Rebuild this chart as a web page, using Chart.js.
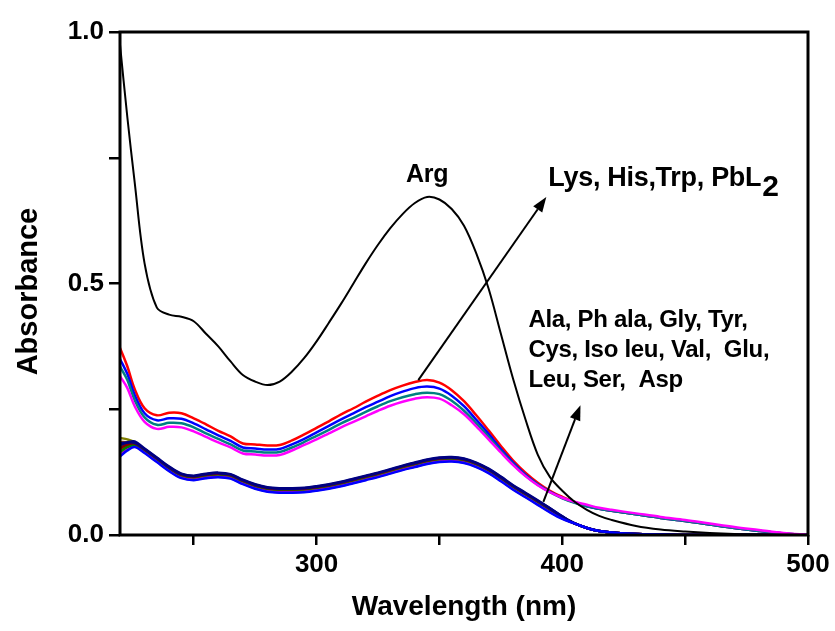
<!DOCTYPE html>
<html>
<head>
<meta charset="utf-8">
<script src="https://cdn.jsdelivr.net/npm/chart.js@4.4.1/dist/chart.umd.min.js"></script>
<style>
  html, body { margin: 0; padding: 0; background: #fff; }
  #wrap { width: 835px; height: 631px; }
</style>
</head>
<body>
<div id="wrap"><canvas id="uv" width="835" height="631"></canvas></div>
<script>
// wavelength grid (nm)
const wavelengths = [220, 223, 226, 230, 235, 240, 245, 250, 255, 260,
  265, 270, 275, 280, 285, 290, 295, 300, 305, 310,
  315, 320, 325, 330, 335, 340, 345, 350, 355, 360,
  365, 370, 375, 380, 385, 390, 395, 400, 405, 410,
  415, 420, 430, 440, 450, 460, 470, 480, 490, 500];

const xTicks = [250, 300, 350, 400, 450, 500];
const yTicks = [0, 0.25, 0.5, 0.75, 1.0];

// Arg
const arg = [0.975, 0.830, 0.700, 0.540, 0.452, 0.438, 0.434, 0.425, 0.400, 0.375,
  0.345, 0.318, 0.305, 0.298, 0.305, 0.325, 0.352, 0.385, 0.422, 0.460,
  0.500, 0.540, 0.577, 0.610, 0.638, 0.660, 0.672, 0.667, 0.648, 0.615,
  0.560, 0.490, 0.400, 0.310, 0.230, 0.160, 0.115, 0.088, 0.066, 0.050,
  0.038, 0.030, 0.018, 0.011, 0.007, 0.004, 0.002, 0.001, 0.0005, 0];

// Lys, His, Trp, PbL2
const upperRed = [0.372, 0.335, 0.290, 0.252, 0.238, 0.243, 0.242, 0.232, 0.220, 0.207,
  0.196, 0.182, 0.180, 0.178, 0.179, 0.188, 0.200, 0.213, 0.226, 0.240,
  0.252, 0.265, 0.277, 0.288, 0.297, 0.304, 0.308, 0.303, 0.288, 0.266,
  0.238, 0.208, 0.177, 0.148, 0.124, 0.104, 0.088, 0.076, 0.066, 0.058,
  0.052, 0.048, 0.041, 0.034, 0.028, 0.021, 0.014, 0.008, 0.003, 0];
const upperBlue = [0.350, 0.320, 0.278, 0.242, 0.228, 0.232, 0.231, 0.222, 0.210, 0.198,
  0.187, 0.174, 0.172, 0.170, 0.171, 0.180, 0.191, 0.204, 0.217, 0.230,
  0.242, 0.254, 0.265, 0.276, 0.285, 0.292, 0.295, 0.291, 0.277, 0.256,
  0.229, 0.201, 0.171, 0.144, 0.120, 0.101, 0.086, 0.074, 0.065, 0.057,
  0.052, 0.048, 0.041, 0.034, 0.028, 0.021, 0.014, 0.008, 0.003, 0];
const upperTeal = [0.335, 0.308, 0.268, 0.234, 0.219, 0.223, 0.222, 0.214, 0.202, 0.191,
  0.180, 0.168, 0.166, 0.164, 0.165, 0.174, 0.185, 0.197, 0.209, 0.222,
  0.233, 0.245, 0.256, 0.266, 0.274, 0.280, 0.283, 0.280, 0.267, 0.247,
  0.222, 0.195, 0.167, 0.141, 0.118, 0.100, 0.085, 0.073, 0.064, 0.057,
  0.052, 0.048, 0.041, 0.034, 0.028, 0.021, 0.014, 0.008, 0.003, 0];
const upperMagenta = [0.316, 0.292, 0.256, 0.225, 0.211, 0.215, 0.214, 0.206, 0.195, 0.184,
  0.174, 0.162, 0.160, 0.158, 0.159, 0.168, 0.179, 0.190, 0.202, 0.214,
  0.225, 0.236, 0.247, 0.257, 0.265, 0.271, 0.274, 0.271, 0.258, 0.240,
  0.216, 0.190, 0.164, 0.139, 0.117, 0.099, 0.085, 0.074, 0.066, 0.060,
  0.054, 0.050, 0.043, 0.036, 0.030, 0.023, 0.016, 0.010, 0.004, 0];

// Ala, Ph ala, Gly, Tyr, Cys, Iso leu, Val, Glu, Leu, Ser, Asp
const lowNavy = [0.179, 0.184, 0.186, 0.172, 0.154, 0.136, 0.122, 0.118, 0.122, 0.124,
  0.121, 0.110, 0.101, 0.095, 0.093, 0.093, 0.094, 0.097, 0.101, 0.106,
  0.112, 0.118, 0.124, 0.131, 0.138, 0.144, 0.150, 0.154, 0.155, 0.152,
  0.144, 0.132, 0.116, 0.099, 0.084, 0.069, 0.053, 0.037, 0.023, 0.014,
  0.008, 0.005, 0.002, 0.001, 0, 0, 0, 0, 0, 0];
const lowDarkBlue = [0.182, 0.184, 0.183, 0.171, 0.153, 0.135, 0.121, 0.117, 0.121, 0.123,
  0.120, 0.109, 0.100, 0.094, 0.092, 0.092, 0.093, 0.096, 0.100, 0.105,
  0.111, 0.117, 0.123, 0.130, 0.137, 0.143, 0.149, 0.153, 0.154, 0.151,
  0.143, 0.131, 0.115, 0.098, 0.083, 0.068, 0.053, 0.037, 0.023, 0.014,
  0.008, 0.005, 0.002, 0.001, 0, 0, 0, 0, 0, 0];
const lowMaroon = [0.173, 0.180, 0.182, 0.170, 0.152, 0.134, 0.120, 0.116, 0.120, 0.122,
  0.119, 0.108, 0.099, 0.093, 0.091, 0.091, 0.092, 0.095, 0.099, 0.104,
  0.110, 0.116, 0.122, 0.129, 0.136, 0.142, 0.148, 0.152, 0.153, 0.150,
  0.142, 0.130, 0.114, 0.097, 0.082, 0.067, 0.052, 0.036, 0.023, 0.014,
  0.008, 0.005, 0.002, 0.001, 0, 0, 0, 0, 0, 0];
const lowGreen = [0.165, 0.175, 0.179, 0.169, 0.151, 0.133, 0.119, 0.115, 0.119, 0.121,
  0.118, 0.107, 0.098, 0.092, 0.090, 0.090, 0.091, 0.094, 0.098, 0.103,
  0.109, 0.115, 0.121, 0.128, 0.135, 0.141, 0.147, 0.151, 0.152, 0.149,
  0.141, 0.129, 0.113, 0.096, 0.081, 0.066, 0.051, 0.036, 0.023, 0.014,
  0.008, 0.005, 0.002, 0.001, 0, 0, 0, 0, 0, 0];
const lowOlive = [0.193, 0.190, 0.184, 0.168, 0.150, 0.132, 0.118, 0.114, 0.118, 0.120,
  0.117, 0.106, 0.097, 0.091, 0.089, 0.089, 0.090, 0.093, 0.097, 0.102,
  0.108, 0.114, 0.120, 0.127, 0.134, 0.140, 0.146, 0.150, 0.151, 0.148,
  0.140, 0.128, 0.112, 0.095, 0.080, 0.065, 0.050, 0.035, 0.023, 0.014,
  0.008, 0.005, 0.002, 0.001, 0, 0, 0, 0, 0, 0];
const lowPurple = [0.170, 0.177, 0.180, 0.167, 0.149, 0.131, 0.117, 0.113, 0.117, 0.119,
  0.116, 0.105, 0.096, 0.090, 0.088, 0.088, 0.089, 0.092, 0.096, 0.101,
  0.107, 0.113, 0.119, 0.126, 0.133, 0.139, 0.145, 0.149, 0.150, 0.147,
  0.139, 0.127, 0.111, 0.094, 0.079, 0.064, 0.049, 0.035, 0.023, 0.014,
  0.008, 0.005, 0.002, 0.001, 0, 0, 0, 0, 0, 0];
const lowTeal = [0.176, 0.179, 0.178, 0.166, 0.148, 0.130, 0.116, 0.112, 0.116, 0.118,
  0.115, 0.104, 0.095, 0.089, 0.087, 0.087, 0.088, 0.091, 0.095, 0.100,
  0.106, 0.112, 0.118, 0.125, 0.132, 0.138, 0.144, 0.148, 0.149, 0.146,
  0.138, 0.126, 0.110, 0.093, 0.078, 0.063, 0.048, 0.034, 0.023, 0.014,
  0.008, 0.005, 0.002, 0.001, 0, 0, 0, 0, 0, 0];
const lowRed = [0.168, 0.175, 0.178, 0.167, 0.149, 0.131, 0.117, 0.113, 0.117, 0.119,
  0.116, 0.105, 0.096, 0.090, 0.088, 0.088, 0.089, 0.092, 0.096, 0.101,
  0.107, 0.113, 0.119, 0.126, 0.133, 0.139, 0.145, 0.149, 0.150, 0.147,
  0.139, 0.127, 0.111, 0.094, 0.079, 0.064, 0.049, 0.035, 0.023, 0.014,
  0.008, 0.005, 0.002, 0.001, 0, 0, 0, 0, 0, 0];
const lowBrown = [0.185, 0.184, 0.180, 0.165, 0.147, 0.129, 0.115, 0.111, 0.115, 0.117,
  0.114, 0.103, 0.094, 0.088, 0.086, 0.086, 0.087, 0.090, 0.094, 0.099,
  0.105, 0.111, 0.117, 0.124, 0.131, 0.137, 0.143, 0.147, 0.148, 0.145,
  0.137, 0.125, 0.109, 0.092, 0.077, 0.062, 0.047, 0.033, 0.023, 0.014,
  0.008, 0.005, 0.002, 0.001, 0, 0, 0, 0, 0, 0];
const lowPink = [0.160, 0.170, 0.176, 0.164, 0.146, 0.128, 0.114, 0.110, 0.114, 0.116,
  0.113, 0.102, 0.093, 0.087, 0.085, 0.085, 0.086, 0.089, 0.093, 0.098,
  0.104, 0.110, 0.116, 0.123, 0.130, 0.136, 0.142, 0.146, 0.147, 0.144,
  0.136, 0.124, 0.108, 0.091, 0.076, 0.061, 0.046, 0.033, 0.023, 0.014,
  0.008, 0.005, 0.002, 0.001, 0, 0, 0, 0, 0, 0];
const lowBlue = [0.156, 0.168, 0.175, 0.163, 0.145, 0.127, 0.113, 0.109, 0.113, 0.115,
  0.112, 0.101, 0.092, 0.086, 0.084, 0.084, 0.085, 0.088, 0.092, 0.097,
  0.103, 0.109, 0.115, 0.122, 0.129, 0.135, 0.141, 0.145, 0.146, 0.143,
  0.135, 0.123, 0.107, 0.090, 0.075, 0.060, 0.045, 0.032, 0.023, 0.014,
  0.008, 0.005, 0.002, 0.001, 0, 0, 0, 0, 0, 0];

const FONT = "'Liberation Sans', Arial, sans-serif";

function series(values, color, width) {
  return {
    data: values.map((v, i) => ({ x: wavelengths[i], y: v })),
    borderColor: color,
    borderWidth: width || 2,
    pointRadius: 0,
    fill: false,
    tension: 0.35,
  };
}

// labels and arrows, placed in data units
const notes = [
  { text: "Arg", x: 345, y: 0.716, align: "center", size: 25 },
  { text: "Lys, His,Trp, PbL", sub: "2", x: 394.3, y: 0.708, align: "left", size: 27 },
  { text: "Ala, Ph ala, Gly, Tyr,", x: 386.2, y: 0.427, align: "left", size: 24 },
  { text: "Cys, Iso leu, Val,  Glu,", x: 386.2, y: 0.368, align: "left", size: 24 },
  { text: "Leu, Ser,  Asp", x: 386.2, y: 0.308, align: "left", size: 24 },
];
const arrows = [
  { from: [341.4, 0.308], to: [393.5, 0.672] },
  { from: [392.3, 0.066], to: [407.4, 0.258] },
];

const annotate = {
  id: "annotate",
  afterDatasetsDraw(chart) {
    const { ctx, scales: { x, y }, chartArea: a } = chart;
    ctx.save();
    ctx.fillStyle = "#000";
    ctx.strokeStyle = "#000";
    ctx.lineWidth = 2;
    arrows.forEach(ar => {
      const x0 = x.getPixelForValue(ar.from[0]), y0 = y.getPixelForValue(ar.from[1]);
      const x1 = x.getPixelForValue(ar.to[0]), y1 = y.getPixelForValue(ar.to[1]);
      const ang = Math.atan2(y1 - y0, x1 - x0);
      const hl = 15, hw = 5.5;
      const bx = x1 - hl * Math.cos(ang), by = y1 - hl * Math.sin(ang);
      ctx.beginPath();
      ctx.moveTo(x0, y0);
      ctx.lineTo(bx, by);
      ctx.stroke();
      ctx.beginPath();
      ctx.moveTo(x1, y1);
      ctx.lineTo(bx + hw * Math.sin(ang), by - hw * Math.cos(ang));
      ctx.lineTo(bx - hw * Math.sin(ang), by + hw * Math.cos(ang));
      ctx.closePath();
      ctx.fill();
    });
    ctx.textBaseline = "middle";
    ctx.letterSpacing = "-0.3px";
    notes.forEach(n => {
      const px = x.getPixelForValue(n.x), py = y.getPixelForValue(n.y);
      ctx.font = "bold " + n.size + "px " + FONT;
      ctx.textAlign = n.align;
      ctx.fillText(n.text, px, py);
      if (n.sub) {
        const w = ctx.measureText(n.text).width;
        ctx.textAlign = "left";
        ctx.font = "bold 30px " + FONT;
        ctx.fillText(n.sub, px + w + 1, py + 9);
      }
    });
    // frame
    ctx.letterSpacing = "0px";
    ctx.lineWidth = 3;
    ctx.strokeRect(a.left, a.top, a.right - a.left, a.bottom - a.top);
    ctx.restore();
  },
};

// Chart.js paints dataset 0 last, so the list runs from top layer to bottom layer
new Chart(document.getElementById("uv"), {
  type: "line",
  data: {
    datasets: [
      series(arg, "#000000", 2),
      series(upperMagenta, "#ff00ff", 2.5),
      series(upperTeal, "#008080", 2.5),
      series(upperBlue, "#0000ff", 2.5),
      series(upperRed, "#ff0000", 2.5),
      series(lowBlue, "#0000ff", 2.5),
      series(lowNavy, "#000080", 2.5),
      series(lowDarkBlue, "#00008b", 2.5),
      series(lowMaroon, "#800000", 2.5),
      series(lowGreen, "#008000", 2.5),
      series(lowPink, "#c000c0", 2.5),
      series(lowBrown, "#8b4513", 2.5),
      series(lowRed, "#c00000", 2.5),
      series(lowTeal, "#008080", 2.5),
      series(lowPurple, "#800080", 2.5),
      series(lowOlive, "#808000", 2.5),
    ],
  },
  options: {
    responsive: false,
    animation: false,
    devicePixelRatio: 1,
    layout: { padding: { top: 32, right: 27, left: 0, bottom: 0 } },
    plugins: { legend: { display: false }, tooltip: { enabled: false } },
    scales: {
      x: {
        type: "linear",
        min: 220,
        max: 500,
        afterFit(s) { s.height = 96; },
        afterBuildTicks(s) { s.ticks = xTicks.map(v => ({ value: v })); },
        border: { display: false },
        grid: { drawOnChartArea: false, tickLength: 10, lineWidth: 2.5, color: "#000" },
        ticks: {
          color: "#000",
          padding: 4,
          maxRotation: 0,
          font: { family: FONT, size: 26, weight: "bold" },
          callback: v => (v % 100 === 0 ? String(v) : ""),
        },
        title: {
          display: true,
          text: "Wavelength (nm)",
          color: "#000",
          font: { family: FONT, size: 28, weight: "bold" },
          padding: { top: 0, bottom: 7 },
        },
      },
      y: {
        min: 0,
        max: 1.0,
        afterFit(s) { s.width = 120; },
        afterBuildTicks(s) { s.ticks = yTicks.map(v => ({ value: v })); },
        border: { display: false },
        grid: { drawOnChartArea: false, tickLength: 11, lineWidth: 2.5, color: "#000" },
        ticks: {
          color: "#000",
          padding: 5,
          font: { family: FONT, size: 26, weight: "bold" },
          callback: v => (Math.abs(v * 2 - Math.round(v * 2)) < 1e-9 ? v.toFixed(1) : ""),
        },
        title: {
          display: true,
          text: "Absorbance  ",
          color: "#000",
          font: { family: FONT, size: 29, weight: "bold" },
          padding: { top: 12, bottom: 0 },
        },
      },
    },
  },
  plugins: [annotate],
});
</script>
</body>
</html>
